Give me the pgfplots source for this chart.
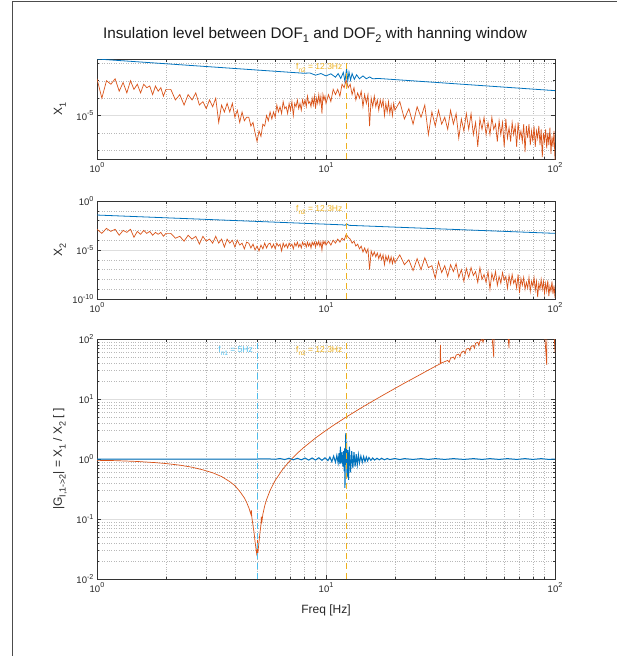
\documentclass[border=0pt]{standalone}
\usepackage{fontspec}
\setmainfont{Liberation Sans}
\usepackage{pgfplots}
\usepackage{pgfplotstable}
\pgfplotsset{compat=1.18}
\definecolor{mblue}{RGB}{0,114,189}
\definecolor{morange}{RGB}{217,83,25}
\definecolor{myellow}{RGB}{237,177,32}
\definecolor{mcyan}{RGB}{77,190,238}
\newcommand{\tp}[1]{10\raisebox{0.5em}{\fontsize{7.2}{7.5}\selectfont #1}}
\newcommand{\sub}[2]{\raisebox{-0.32em}{\fontsize{#1}{#1}\selectfont #2}}
\tikzset{ann/.style={anchor=north east, inner sep=1pt, xshift=-3pt, font=\fontsize{8.5}{10}\selectfont}}

% f, |X1| (a), |X2| (b)
\pgfplotstableread{
f a b
1.00 1.3e-3 1.3e-3
1.05 1e-4 5e-4
1.10 1e-3 1.6e-3
1.15 6.3e-4 7.9e-4
1.20 1.3e-3 1.3e-3
1.25 2.5e-4 3.2e-4
1.30 7.9e-4 1e-3
1.35 2e-4 6.3e-4
1.40 1e-3 1.3e-3
1.45 3.2e-4 2e-4
1.50 6.3e-4 7.9e-4
1.55 2e-4 4e-4
1.60 6.3e-4 1e-3
1.65 4e-4 5e-4
1.70 5e-4 7.9e-4
1.75 1.6e-4 3.2e-4
1.80 5e-4 6.3e-4
1.85 2.5e-4 4e-4
1.90 4e-4 6.3e-4
1.95 1.3e-4 2.5e-4
2.00 3.2e-4 5e-4
2.1 3.2e-4 5e-4
2.2 7.9e-5 1.6e-4
2.3 1.6e-4 2.5e-4
2.4 4e-5 7.9e-5
2.5 1.6e-4 3.2e-4
2.6 7.9e-5 1.3e-4
2.7 2e-4 2.5e-4
2.8 4e-5 4e-5
2.9 6.3e-5 2.5e-4
3.0 2.5e-5 7.9e-5
3.1 7.9e-5 1.3e-4
3.2 3.2e-5 5e-5
3.3 1e-4 2.5e-4
3.4 4e-6 5e-5
3.5 4e-5 1.3e-4
3.6 1.6e-5 2e-5
3.7 5e-5 1.3e-4
3.8 1.6e-5 5e-5
3.9 5e-5 1e-4
4.0 7.9e-6 2e-5
4.1 2e-5 1e-4
4.2 4e-6 3.2e-5
4.3 1.6e-5 5e-5
4.4 5e-6 1.3e-5
4.5 7.9e-6 6.3e-5
4.6 7.9e-6 5e-5
4.7 2.5e-6 1.6e-5
4.8 4e-6 4e-5
4.9 1e-6 1e-5
5.0 3.2e-7 2.5e-5
5.1 1.3e-6 7.9e-6
5.2 6.3e-7 3.2e-5
5.3 3.2e-6 1.3e-5
5.4 2.5e-6 5e-5
5.5 1e-5 1.6e-5
5.6 5e-6 4e-5
5.7 1.6e-5 5e-5
5.8 6.3e-6 1.6e-5
5.9 1.6e-5 4e-5
6.0 7.9e-6 1.3e-5
6.1 4e-5 5e-5
6.2 1.6e-5 2.5e-5
6.3 3.2e-5 4e-5
6.4 1.3e-5 7.9e-6
6.5 6.3e-5 5e-5
6.6 2.5e-5 2e-5
6.7 3.2e-5 4e-5
6.8 1.3e-5 1.6e-5
6.9 5e-5 5e-5
7.0 2e-5 2.5e-5
7.1 6.3e-5 4e-5
7.2 1e-5 1.3e-5
7.3 5e-5 5e-5
7.4 3.2e-5 2.5e-5
7.5 7.9e-5 6.3e-5
7.6 2.5e-5 2e-5
7.7 5e-5 4e-5
7.8 2e-5 1.6e-5
7.9 7.9e-5 6.3e-5
8.0 4e-5 3.2e-5
8.1 7.9e-5 5e-5
8.2 3.2e-5 2e-5
8.3 1.3e-4 6.3e-5
8.4 5e-5 2.5e-5
8.5 6.3e-5 5e-5
8.6 3.2e-5 1.6e-5
8.7 1e-4 6.3e-5
8.8 4e-5 3.2e-5
8.9 1.3e-4 6.3e-5
9.0 2.5e-5 2e-5
9.1 1e-4 6.3e-5
9.2 5e-5 3.2e-5
9.3 1.6e-4 7.9e-5
9.4 5e-5 2.5e-5
9.5 1.3e-4 6.3e-5
9.6 1.3e-5 1e-5
9.7 1.6e-4 7.9e-5
9.8 7.9e-5 4e-5
9.9 1.3e-4 7.9e-5
10.0 5e-5 3.2e-5
10.25 1.6e-4 7.9e-5
10.5 6.3e-5 3.2e-5
10.75 3.2e-4 1e-4
11.0 1.6e-4 5e-5
11.25 3.2e-4 1.3e-4
11.5 1.3e-4 6.3e-5
11.75 6.3e-4 1.6e-4
12.0 4e-4 1e-4
12.25 1.1e-3 4e-4
12.5 4e-4 2e-4
12.75 6.3e-4 1.3e-4
13.0 1.6e-4 5e-5
13.25 4e-4 7.9e-5
13.5 7.9e-5 2.5e-5
13.75 2e-4 4e-5
14.0 1e-4 1.3e-5
14.25 2.5e-4 2.5e-5
14.5 3.2e-5 6.3e-6
14.75 1.6e-4 1.6e-5
15.0 5e-5 5e-6
15.25 1.6e-4 1.3e-5
15.5 2.5e-6 1e-7
15.75 1e-4 7.9e-6
16.0 3.2e-5 2.5e-6
16.25 1.3e-4 6.3e-6
16.5 3.2e-5 2e-6
16.75 7.9e-5 5e-6
17.0 2e-5 1.3e-6
17.25 7.9e-5 4e-6
17.5 3.2e-5 1e-6
17.75 7.9e-5 3.2e-6
18.0 1e-5 3.2e-7
18.25 5e-5 2.5e-6
18.5 1.6e-5 7.9e-7
18.75 6.3e-5 2.5e-6
19.0 1.3e-5 5e-7
19.25 4e-5 2e-6
19.5 1e-5 4e-7
19.75 5e-5 1.6e-6
20.0 2e-5 5e-7
21 6.3e-5 3.2e-6
22 6.3e-6 3.2e-7
23 2.5e-5 1e-6
24 3.2e-6 7.9e-8
25 3.2e-5 1.3e-6
26 7.9e-6 1e-7
27 4e-5 1.6e-6
28 7.9e-7 1.6e-7
29 1.6e-5 2.5e-7
30 2.5e-6 1.3e-8
31 2e-5 6.3e-7
32 3.2e-6 5e-8
33 7.9e-6 2.5e-7
34 1.6e-6 2e-8
35 2e-5 3.2e-7
36 3.2e-6 6.3e-8
37 1.3e-5 4e-7
38 5e-7 1.6e-8
39 6.3e-6 1e-7
40 1.3e-6 6.3e-9
41 1.3e-5 1.3e-7
42 1.6e-6 1.6e-8
43 1.3e-5 1.6e-7
44 7.9e-7 2.5e-8
45 4e-6 6.3e-8
46 1.6e-7 5e-9
47 6.3e-6 1.6e-7
48 1.6e-6 1e-8
49 7.9e-6 3.2e-8
50 7.9e-7 5e-9
51 4e-6 6.3e-8
52 7.9e-7 1e-9
53 7.9e-6 4e-8
54 1.6e-6 7.9e-9
55 3.2e-6 6.3e-8
56 3.2e-7 2.5e-9
57 5e-6 2e-8
58 7.9e-7 4e-9
59 4e-6 5e-8
60 1.6e-7 7.9e-9
61 6.3e-6 2e-8
62 5e-7 1.3e-9
63 2e-6 2.5e-8
64 3.2e-7 3.2e-9
65 4e-6 3.2e-8
66 7.9e-7 4e-9
67 2.5e-6 1e-8
68 1.6e-7 1.3e-9
69 4e-6 3.2e-8
70 5e-7 4e-10
71 1.3e-6 1.3e-8
72 3.2e-7 2.5e-9
73 3.2e-6 1.6e-8
74 7.9e-8 1e-9
75 2.5e-6 5e-9
76 5e-7 1.3e-9
77 3.2e-6 1.6e-8
78 2e-7 6.3e-10
79 1.3e-6 6.3e-9
80 3.2e-7 2e-9
81 2.5e-6 1.6e-8
82 1.6e-7 7.9e-10
83 1.3e-6 6.3e-9
84 5e-7 1.6e-10
85 2.5e-6 4e-9
86 2e-7 1e-9
87 1.6e-6 1e-8
88 4e-8 1e-9
89 1e-6 6.3e-9
90 3.2e-7 4e-10
91 1.6e-6 4e-9
92 1.3e-7 6.3e-10
93 1e-6 7.9e-9
94 2e-7 2e-10
95 2e-6 2e-9
96 6.3e-8 6.3e-10
97 6.3e-7 6.3e-9
98 1.6e-7 3.2e-10
99 1.3e-6 2.5e-9
100 2.5e-8 1.3e-10
}\spectab

\pgfplotsset{
  mstyle/.style={
    scale only axis, width=458pt, anchor=south west,
    xmin=1, xmax=100,
    xtick={1,10,100},
    xticklabels={\tp{0},\tp{1},\tp{2}},
    minor xtick={2,3,4,5,6,7,8,9,20,30,40,50,60,70,80,90},
    grid=both,
    major grid style={black!13, line width=0.5pt},
    minor grid style={black!28, dotted, line width=0.45pt},
    tick align=inside, major tick length=4pt, minor tick length=2.5pt,
    axis line style={black!80, line width=0.6pt},
    tick style={black!80, line width=0.5pt},
    tick label style={font=\fontsize{9.5}{10}\selectfont, text=black!85},
    label style={font=\fontsize{12}{14}\selectfont, text=black!85},
    ylabel style={at={(axis description cs:-0.081,0.5)}, anchor=center},
    enlargelimits=false, clip=true,
  },
  bl/.style={mblue, line width=0.8pt},
  og/.style={morange, line width=0.7pt},
  vl/.style={line width=1pt, dash pattern=on 6pt off 4pt},
}

\begin{document}
\begin{tikzpicture}
\useasboundingbox (0pt,0pt) rectangle (617pt,-656pt);
\draw[black!70, line width=1pt] (12pt,-656pt) -- (12pt,-1.5pt) -- (617pt,-1.5pt);
\node[font=\fontsize{15.3}{18}\selectfont, text=black!90] at (315pt,-35pt)
  {Insulation level between DOF\sub{11}{1} and DOF\sub{11}{2} with hanning window};

% ---------- Panel 1 ----------
\begin{loglogaxis}[mstyle, at={(97pt,-159pt)}, height=100pt,
  ymin=3.16e-8, ymax=1.78e-2,
  ytick={1e-5}, yticklabels={\tp{-5}},
  minor ytick={1e-7,1e-6,1e-4,1e-3,1e-2},
  ylabel={X\sub{9}{1}}]
\addplot[bl] coordinates {(1,1.78e-2) (8,2.7e-3) (8.5,2.8e-3) (9,2.1e-3) (9.5,2.6e-3) (10,1.9e-3) (10.5,2.5e-3) (11,1.6e-3) (11.3,2.6e-3) (11.6,1.35e-3) (11.9,3.0e-3) (12.1,9.1e-4) (12.3,5.1e-3) (12.45,1e-3) (12.6,3.2e-3) (12.8,1.1e-3) (13,2.6e-3) (13.3,1.2e-3) (13.6,2.2e-3) (14,1.3e-3) (14.5,1.9e-3) (15,1.3e-3) (15.5,1.66e-3) (16,1.3e-3) (17,1.35e-3) (100,2.7e-4)};
\addplot[og] table[x=f, y=a] {\spectab};
\addplot[myellow, vl] coordinates {(12.3,3.16e-8) (12.3,1.78e-2)};
\node[ann, yshift=-3pt, text=myellow] at (axis cs:12.3,1.78e-2) {f\sub{6.5}{n2} = 12.3Hz};
\end{loglogaxis}

% ---------- Panel 2 ----------
\begin{loglogaxis}[mstyle, at={(97pt,-299pt)}, height=98pt,
  ymin=1e-10, ymax=1,
  ytick={1e-10,1e-5,1},
  yticklabels={\tp{-10},\tp{-5},\tp{0}},
  minor ytick={1e-9,1e-8,1e-7,1e-6,1e-4,1e-3,1e-2,1e-1},
  ylabel={X\sub{9}{2}}]
\addplot[bl] coordinates {(1,3.7e-2) (11.8,3.7e-3) (12.1,3.3e-3) (12.3,4.6e-3) (12.6,3.3e-3) (100,5e-4)};
\addplot[og] table[x=f, y=b] {\spectab};
\addplot[myellow, vl] coordinates {(12.3,1e-10) (12.3,1)};
\node[ann, yshift=-3pt, text=myellow] at (axis cs:12.3,1) {f\sub{6.5}{n2} = 12.3Hz};
\end{loglogaxis}

% ---------- Panel 3 ----------
\begin{loglogaxis}[mstyle, at={(97pt,-579pt)}, height=240pt,
  ymin=1e-2, ymax=1e2,
  ytick={1e-2,1e-1,1,1e1,1e2},
  yticklabels={\tp{-2},\tp{-1},\tp{0},\tp{1},\tp{2}},
  minor ytick={0.02,0.03,0.04,0.05,0.06,0.07,0.08,0.09,0.2,0.3,0.4,0.5,0.6,0.7,0.8,0.9,2,3,4,5,6,7,8,9,20,30,40,50,60,70,80,90},
  xlabel={Freq [Hz]},
  xlabel style={at={(axis description cs:0.5,-0.129)}, anchor=center},
  ylabel={|G\sub{9}{I,1->2}| = X\sub{9}{1} / X\sub{9}{2} [ ]}]
\addplot[og] coordinates {(1.0,0.95) (1.2,0.94) (1.5,0.91) (1.8,0.87) (2.0,0.84) (2.3,0.79) (2.6,0.73) (2.9,0.66) (3.2,0.59) (3.5,0.51) (3.8,0.42) (4.0,0.36) (4.2,0.29) (4.4,0.225) (4.5,0.19) (4.6,0.155) (4.7,0.12) (4.72,0.14) (4.74,0.11) (4.8,0.078) (4.85,0.06) (4.9,0.042) (4.95,0.031) (5.0,0.024) (5.02,0.045) (5.04,0.027) (5.1,0.042) (5.15,0.06) (5.2,0.08) (5.22,0.11) (5.24,0.085) (5.3,0.12) (5.4,0.166) (5.5,0.21) (5.7,0.30) (6.0,0.44) (6.5,0.69) (7.0,0.96) (7.5,1.25) (8.0,1.56) (9.0,2.24) (10,3.0) (11,3.84) (12.3,5.05) (14,6.84) (16,9.24) (18,11.96) (20,15.0) (22,18.4) (24,22.0) (26,26.0) (28,30.4) (30,35) (31,37.4) (31.5,38.5) (31.6,80) (31.7,39) (32,40) (33,42) (34,44) (34.5,41) (35,48) (36,50) (36.5,46) (37,54) (38,56) (38.5,51) (39,60) (40,63) (40.5,57) (41,68) (42,70) (42.5,64) (43,75) (44,78) (44.5,70) (45,85) (46,88) (46.5,78) (47,92) (48,98) (48.5,88) (49,104) (50,100) (51,115) (52,105) (53,120) (54,50) (54.2,118) (55,112) (56,125) (57,108) (58,130) (60,115) (62,135) (63,70) (63.2,130) (65,120) (67,140) (70,125) (72,145) (75,130) (78,150) (80,125) (83,155) (86,135) (88,150) (90,130) (92,37) (92.2,145) (95,140) (97,155) (99,130) (100,60)};
\addplot[mblue, line width=1pt] coordinates {(1,1.0) (3,1.0) (5,1.0) (5.5,1.01) (6,0.99) (6.3,1.02) (6.6,0.98) (6.9,1.03) (7.2,0.97) (7.5,1.03) (7.8,0.97) (8.1,1.04) (8.4,0.96) (8.7,1.04) (9.0,0.96) (9.3,1.05) (9.6,0.95) (9.9,1.05) (10.2,0.94) (10.4,1.08) (10.6,0.9) (10.8,1.12) (11.0,0.88) (11.15,1.15) (11.3,0.86) (11.4,1.25) (11.5,0.82) (11.55,1.6) (11.65,0.85) (11.75,1.3) (11.85,0.75) (11.95,1.35) (12.0,0.62) (12.05,1.5) (12.1,0.33) (12.15,1.2) (12.2,2.7) (12.25,0.8) (12.3,1.9) (12.35,0.5) (12.45,1.4) (12.55,0.45) (12.65,1.6) (12.8,0.6) (12.95,1.35) (13.1,0.7) (13.25,1.3) (13.4,0.75) (13.55,1.2) (13.7,0.8) (13.85,1.18) (14.0,0.86) (14.2,1.12) (14.4,0.88) (14.6,1.1) (14.8,0.9) (15.0,1.08) (15.2,0.93) (15.4,1.06) (15.7,0.95) (16.0,1.04) (16.3,0.96) (16.7,1.03) (17.1,0.97) (17.5,1.03) (18,0.97) (18.5,1.02) (19,0.98) (20,1.02) (21,0.98) (22,1.015) (24,0.985) (26,1.015) (28,0.985) (30,1.015) (33,0.985) (36,1.015) (40,0.985) (44,1.015) (48,0.985) (52,1.015) (57,0.985) (62,1.015) (68,0.985) (74,1.015) (80,0.985) (87,1.015) (94,0.985) (100,1.0)};
\addplot[mcyan, vl] coordinates {(5,1e-2) (5,1e2)};
\addplot[myellow, vl] coordinates {(12.3,1e-2) (12.3,1e2)};
\node[ann, yshift=-6pt, text=mcyan] at (axis cs:5,1e2) {f\sub{6.5}{n1} = 5Hz};
\node[ann, yshift=-6pt, text=myellow] at (axis cs:12.3,1e2) {f\sub{6.5}{n2} = 12.3Hz};
\end{loglogaxis}
\end{tikzpicture}
\end{document}
